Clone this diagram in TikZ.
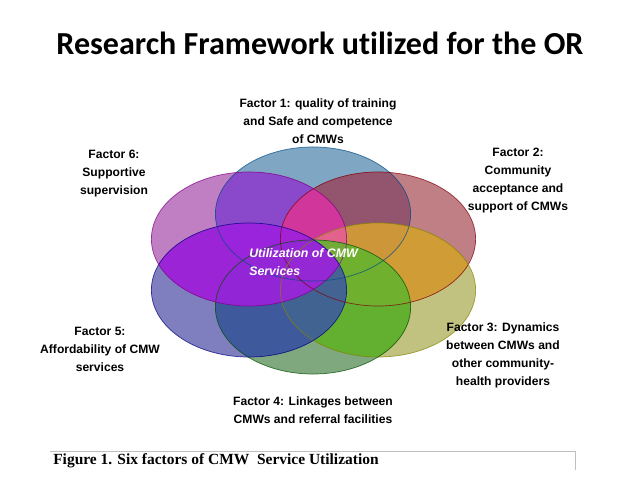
\documentclass[tikz,border=0pt]{standalone}
\usepackage{fontspec}
\setmainfont{Liberation Sans}
\newfontfamily\titlefont{Carlito}[Ligatures=NoCommon]
\newfontfamily\capfont{Liberation Serif}
\usetikzlibrary{positioning}

% single ellipse colours
\definecolor{trainblue}{RGB}{0,77,135}
\definecolor{commrose}{RGB}{129,0,11}
\definecolor{dynolive}{RGB}{131,133,0}
\definecolor{linkgreen}{RGB}{0,81,0}
\definecolor{affviolet}{RGB}{0,0,129}
\definecolor{supmagenta}{RGB}{129,0,135}
% overlap colours
\definecolor{ovlilac}{RGB}{140,72,208}
\definecolor{ovdusk}{RGB}{150,86,110}
\definecolor{ovhotpink}{RGB}{218,52,160}
\definecolor{ovamber}{RGB}{214,160,52}
\definecolor{ovpink}{RGB}{228,92,150}
\definecolor{ovlime}{RGB}{100,180,46}
\definecolor{ovnavy}{RGB}{62,90,160}
\definecolor{ovpurple}{RGB}{158,32,222}

\begin{document}
\begin{tikzpicture}[
    x=0.025cm, y=-0.025cm,
    radii/.style={x radius=2.44cm, y radius=1.675cm},
    petal/.style={fill opacity=0.5},
    rim/.style={draw opacity=0.75, line width=0.5pt},
    factor/.style={font=\bfseries\fontsize{8.6}{12.8}\selectfont, align=center, inner sep=0pt},
    hub/.style={font=\bfseries\itshape\fontsize{8.8}{12.8}\selectfont, text=white, align=left, inner sep=0pt}
]
\useasboundingbox (0,0) rectangle (638,479);

\coordinate (e1) at (313,214);
\coordinate (e2) at (378,239);
\coordinate (e3) at (378,290);
\coordinate (e4) at (313,307);
\coordinate (e5) at (249,290);
\coordinate (e6) at (249,239);

% six overlapping factor ellipses
\foreach \i/\col in {1/trainblue, 2/commrose, 3/dynolive, 4/linkgreen, 5/affviolet, 6/supmagenta}
    \fill[petal, \col] (e\i) ellipse [radii];

% brighter overlaps
\foreach \a/\b/\col in {1/6/ovlilac, 1/2/ovdusk, 2/6/ovhotpink, 2/3/ovamber,
    3/6/ovpink, 3/4/ovlime, 4/5/ovnavy, 5/6/ovpurple} {
  \begin{scope}
    \clip (e\a) ellipse [radii];
    \fill[\col, fill opacity=0.88] (e\b) ellipse [radii];
  \end{scope}
}

\foreach \i/\col in {1/trainblue, 2/commrose, 3/dynolive, 4/linkgreen, 5/affviolet, 6/supmagenta}
    \draw[rim, \col] (e\i) ellipse [radii];

\node[font=\titlefont\bfseries\fontsize{22.8}{26}\selectfont] (title) at (320,43)
    {Research Framework utilized for the OR};

\node[hub, anchor=west] (hub) at (249,262) {Utilization of CMW\\Services};

\node[factor] (f1) at (318,121) {Factor 1: quality of training\\and Safe and competence\\of CMWs};
\node[factor] (f2) at (518,181) {Factor 2:\\Community\\acceptance and\\support of CMWs};
\node[factor] (f3) at (503,355) {Factor 3: Dynamics\\between CMWs and\\other community-\\health providers};
\node[factor] (f4) at (313,410) {Factor 4: Linkages between\\CMWs and referral facilities};
\node[factor] (f5) at (100,349) {Factor 5:\\Affordability of CMW\\services};
\node[factor] (f6) at (114,174) {Factor 6:\\Supportive\\supervision};

% caption frame
\coordinate (rule-l) at (50,451);
\coordinate (rule-r) at (575,451);
\coordinate (rule-b) at (575,470);
\draw[black!25, line width=0.5pt] (rule-l) -- (rule-r) -- (rule-b);
\node[font=\capfont\bfseries\fontsize{11}{13}\selectfont, anchor=west, inner sep=0pt] (caption)
    at (53,461) {Figure 1. Six factors of CMW \ Service Utilization};
\end{tikzpicture}
\end{document}
